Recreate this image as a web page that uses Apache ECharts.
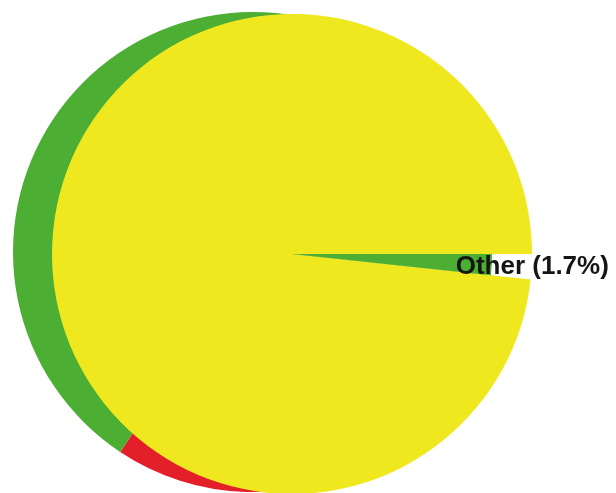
<!DOCTYPE html>
<html><head><meta charset="utf-8">
<script src="https://cdn.jsdelivr.net/npm/echarts@6/dist/echarts.min.js"></script>
<style>html,body{margin:0;padding:0;background:#fff}#c{width:616px;height:493px}</style>
</head><body><div id="c"></div>
<script>
// Main pie data
const categories = ['Other', 'Main'];
const values = [1.7, 98.3];
const labelText = 'Other (1.7%)';
// Visible "side" of the pie (angles, degrees)
const sideCategories = ['Red side', 'Green side'];
const sideValues = [63.6, 296.4];

const YELLOW = '#f0e81f', GREEN = '#4cae33', RED = '#e3202a';

const chart = echarts.init(document.getElementById('c'), null, {renderer: 'canvas'});
chart.setOption({
  animation: false,
  backgroundColor: '#fff',
  series: [
    {
      type: 'pie', silent: true, z: 1,
      center: [253, 252], radius: 240,
      startAngle: 300, clockwise: true,
      label: {show: false}, labelLine: {show: false},
      itemStyle: {borderWidth: 0},
      emphasis: {disabled: true},
      data: sideCategories.map((n, i) => ({name: n, value: sideValues[i], itemStyle: {color: i === 0 ? RED : GREEN}}))
    },
    {
      type: 'pie', silent: true, z: 2,
      center: [292, 254], radius: 240,
      startAngle: 0, clockwise: true,
      label: {show: false}, labelLine: {show: false},
      itemStyle: {borderWidth: 0},
      emphasis: {disabled: true},
      data: categories.map((n, i) => ({name: n, value: values[i], itemStyle: {color: i === 0 ? '#ffffff' : YELLOW}}))
    },
    {
      type: 'pie', silent: true, z: 3,
      center: [292, 254], radius: 200,
      startAngle: 0, clockwise: true,
      avoidLabelOverlap: false,
      label: {show: false},
      labelLine: {show: false, length: 0, length2: 0},
      itemStyle: {borderWidth: 0},
      emphasis: {disabled: true},
      labelLayout: {dx: -41, dy: 2},
      data: categories.map((n, i) => ({
        name: n, value: values[i],
        itemStyle: {color: i === 0 ? GREEN : 'rgba(0,0,0,0)'},
        label: i === 0 ? {
          show: true, position: 'outside', formatter: labelText,
          fontSize: 26, fontWeight: 'bold', color: '#151515',
          fontFamily: 'Liberation Sans, Arial, sans-serif'
        } : {show: false}
      }))
    }
  ]
});
</script>
</body></html>
